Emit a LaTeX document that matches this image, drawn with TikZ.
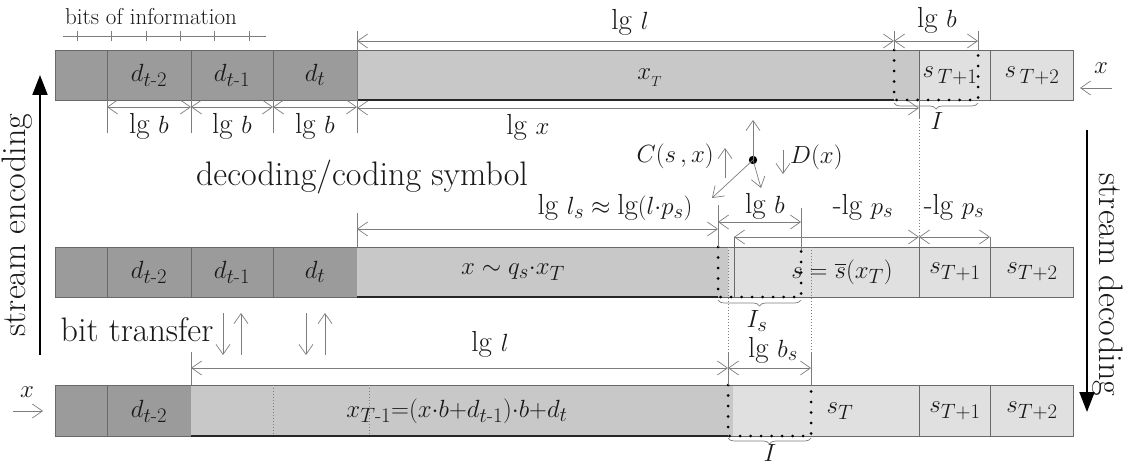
\documentclass[tikz,border=0pt]{standalone}
\usepackage{amsmath}
\usepackage{fontspec}
\usetikzlibrary{arrows.meta,decorations.pathreplacing}
\definecolor{dcell}{RGB}{155,155,155}
\definecolor{mcell}{RGB}{200,200,200}
\definecolor{lcell}{RGB}{224,224,224}
\definecolor{edgec}{RGB}{105,105,105}
\definecolor{dimc}{RGB}{125,125,125}
\definecolor{txt}{RGB}{25,25,25}
\tikzset{
  dim/.style={draw=dimc,line width=0.7pt,<->},
  ext/.style={draw=dimc,line width=0.7pt},
  arr/.style={draw=dimc,line width=0.7pt,->},
  faint/.style={draw=dimc,line width=0.6pt,dash pattern=on 1pt off 2pt},
  hdot/.style={draw=black,line width=3pt,line cap=round,dash pattern=on 0pt off 10.5pt},
  thickb/.style={draw=black!85,line width=2.6pt},
  cellb/.style={draw=edgec,line width=0.8pt},
  brc/.style={draw=dimc,line width=0.7pt,decorate,decoration={brace,amplitude=6pt}},
  bigarr/.style={draw=black,line width=2pt,-{Triangle[length=20pt,width=15pt]}},
  lbl/.style={inner sep=0pt,text=txt,font=\fontsize{29}{34}\selectfont},
  sml/.style={inner sep=0pt,text=txt,font=\fontsize{23}{27}\selectfont},
  big/.style={inner sep=0pt,text=txt,font=\fontsize{34}{40}\selectfont},
}
\begin{document}
\begin{tikzpicture}[x=1pt,y=-1pt,>={Straight Barb[length=10pt,width=14pt]}]
\useasboundingbox (0,0) rectangle (1125,465);
% ---------------- row 1 ----------------
\fill[dcell] (55,50) rectangle (357,100);
\fill[mcell] (357,50) rectangle (919,100);
\fill[lcell] (919,50) rectangle (1073,100);
\draw[cellb] (55,50) rectangle (1073,100);
\foreach \xx in {107,191,273,919,990} \draw[cellb] (\xx,50)--(\xx,100);
\draw[thickb] (357,100)--(894,100);
\draw[hdot] (894,50)--(894,100)--(978,100)--(978,50);
\draw[brc] (978,103)--(894,103);
% bits of information
\node[sml] (bits) at (151,17) {bits of information};
\draw[ext] (63,36)--(266,36);
\foreach \xx in {77,111,146,180,214,249} \draw[ext] (\xx,31)--(\xx,41);
% dimension lines above
\draw[ext] (357,31)--(357,133);
\draw[ext] (894,31)--(894,50);
\draw[ext] (978,31)--(978,50);
\draw[dim] (357,41)--(894,41);
\draw[dim] (894,41)--(978,41);
\node[lbl] (lgl1) at (630,22) {lg $l$};
\node[lbl] (lgb1) at (937,20) {lg $b$};
% dimension lines below
\foreach \xx in {107,191,273} \draw[ext] (\xx,100)--(\xx,133);
\draw[dim] (107,107)--(191,107);
\draw[dim] (191,107)--(273,107);
\draw[dim] (273,107)--(357,107);
\draw[dim] (357,108)--(919,108);
\draw[ext] (919,100)--(919,118);
\draw[faint] (919,118)--(919,247);
\node[lbl] (lb1) at (149,126) {lg $b$};
\node[lbl] (lb2) at (232,126) {lg $b$};
\node[lbl] (lb3) at (315,126) {lg $b$};
\node[lbl] (lgx) at (528,127) {lg $x$};
\node[lbl] (I1) at (937,121) {$I$};
% labels in row 1
\node[lbl] (r1a) at (149,75) {$d_{t\text{-}2}$};
\node[lbl] (r1b) at (232,75) {$d_{t\text{-}1}$};
\node[lbl] (r1c) at (315,75) {$d_{t}$};
\node[lbl] (r1x) at (650,78) {$x_{_T}$};
\node[lbl] (r1s1) at (950,76) {$s_{\,T+1}$};
\node[lbl] (r1s2) at (1032,76) {$s_{\,T+2}$};
\node[lbl] (xr) at (1101,68) {$x$};
\coordinate (xra) at (1112,88);
\coordinate (xrb) at (1080,88);
\draw[arr] (xra)--(xrb);
% ---------------- coding symbol ----------------
\node[big] (dcs) at (362,177) {decoding/coding symbol};
\node[lbl,anchor=east] (Csx) at (714,156) {$C(s\,,x)$};
\node[lbl,anchor=west] (Dx) at (790,157) {$D(x)$};
\coordinate (dot) at (753,160);
\fill (dot) circle (4.2);
\draw[arr] (725,178)--(725,148);
\draw[arr] (dot)--(753,120);
\draw[arr] (dot)--(761,188);
\draw[arr] (dot)--(712,198);
\draw[arr] (783,150)--(783,174);
% ---------------- row 2 ----------------
\fill[dcell] (55,247) rectangle (357,297);
\fill[mcell] (357,247) rectangle (728,297);
\fill[lcell] (728,247) rectangle (1073,297);
\draw[cellb] (55,247) rectangle (1073,297);
\foreach \xx in {107,191,273,919,990} \draw[cellb] (\xx,247)--(\xx,297);
\draw[cellb] (734,237)--(734,297);
\draw[thickb] (357,297)--(718,297);
\draw[hdot] (718,247)--(718,297)--(801,297)--(801,247);
\draw[brc] (801,300)--(718,300);
\draw[faint] (728,247)--(728,352);
\draw[faint] (811,247)--(811,352);
\draw[ext] (357,213)--(357,247);
\draw[ext] (718,205)--(718,247);
\draw[ext] (801,208)--(801,250);
\draw[ext] (919,237)--(919,247);
\draw[ext] (990,237)--(990,247);
\draw[dim] (357,229)--(718,229);
\draw[dim] (718,222)--(801,222);
\draw[dim] (734,237)--(919,237);
\draw[dim] (919,237)--(990,237);
\node[lbl] (lgls) at (615,208) {lg $l_s\approx{}$lg$(l{\cdot}p_s)$};
\node[lbl] (lgb2) at (765,206) {lg $b$};
\node[lbl] (lps1) at (863,207) {-lg $p_s$};
\node[lbl] (lps2) at (954,207) {-lg $p_s$};
\node[lbl] (Is) at (757,321) {$I_s$};
\node[lbl] (r2a) at (149,272) {$d_{t\text{-}2}$};
\node[lbl] (r2b) at (232,272) {$d_{t\text{-}1}$};
\node[lbl] (r2c) at (315,272) {$d_{t}$};
\node[lbl] (r2x) at (513,272) {$x\sim q_s{\cdot}x_T$};
\node[lbl] (r2s) at (842,272) {$s=\overline{s}(x_T)$};
\node[lbl] (r2s1) at (955,272) {$s_{T+1}$};
\node[lbl] (r2s2) at (1032,272) {$s_{T+2}$};
% bit transfer
\node[big] (bt) at (137,330) {bit transfer};
\draw[arr] (223,313)--(223,355);
\draw[arr] (241,355)--(241,313);
\draw[arr] (306,313)--(306,355);
\draw[arr] (325,355)--(325,313);
% ---------------- row 3 ----------------
\fill[dcell] (55,385) rectangle (191,436);
\fill[mcell] (191,385) rectangle (733,436);
\fill[lcell] (733,385) rectangle (1073,436);
\draw[cellb] (55,385) rectangle (1073,436);
\foreach \xx in {107,919,990} \draw[cellb] (\xx,385)--(\xx,436);
\draw[faint] (273,385)--(273,436);
\draw[faint] (369,385)--(369,436);
\draw[thickb] (191,436)--(728,436);
\draw[hdot] (728,385)--(728,436)--(811,436)--(811,385);
\draw[brc] (811,438)--(728,438);
\draw[ext] (191,352)--(191,385);
\draw[ext] (728,352)--(728,385);
\draw[ext] (811,352)--(811,385);
\draw[dim] (191,368)--(728,368);
\draw[dim] (728,368)--(811,368);
\node[lbl] (lgl3) at (490,344) {lg $l$};
\node[lbl] (lgbs) at (773,350) {lg $b_s$};
\node[lbl,font=\fontsize{25}{30}\selectfont] (I3) at (770,453) {$I$};
\node[lbl] (r3a) at (149,411) {$d_{t\text{-}2}$};
\node[lbl] (r3x) at (457,411) {$x_{T\text{-}1}{=}(x{\cdot}b{+}d_{t\text{-}1}){\cdot}b{+}d_t$};
\node[lbl] (r3s) at (840,411) {$s_T$};
\node[lbl] (r3s1) at (955,411) {$s_{T+1}$};
\node[lbl] (r3s2) at (1032,411) {$s_{T+2}$};
\node[lbl] (xl) at (27,392) {$x$};
\coordinate (xla) at (13,411);
\coordinate (xlb) at (43,411);
\draw[arr] (xla)--(xlb);
% ---------------- stream arrows ----------------
\node[big,rotate=90] (se) at (17,225) {stream encoding};
\draw[bigarr] (40,355)--(40,75);
\node[big,rotate=-90] (sd) at (1108,285) {stream decoding};
\draw[bigarr] (1087,130)--(1087,412);
\end{tikzpicture}
\end{document}
